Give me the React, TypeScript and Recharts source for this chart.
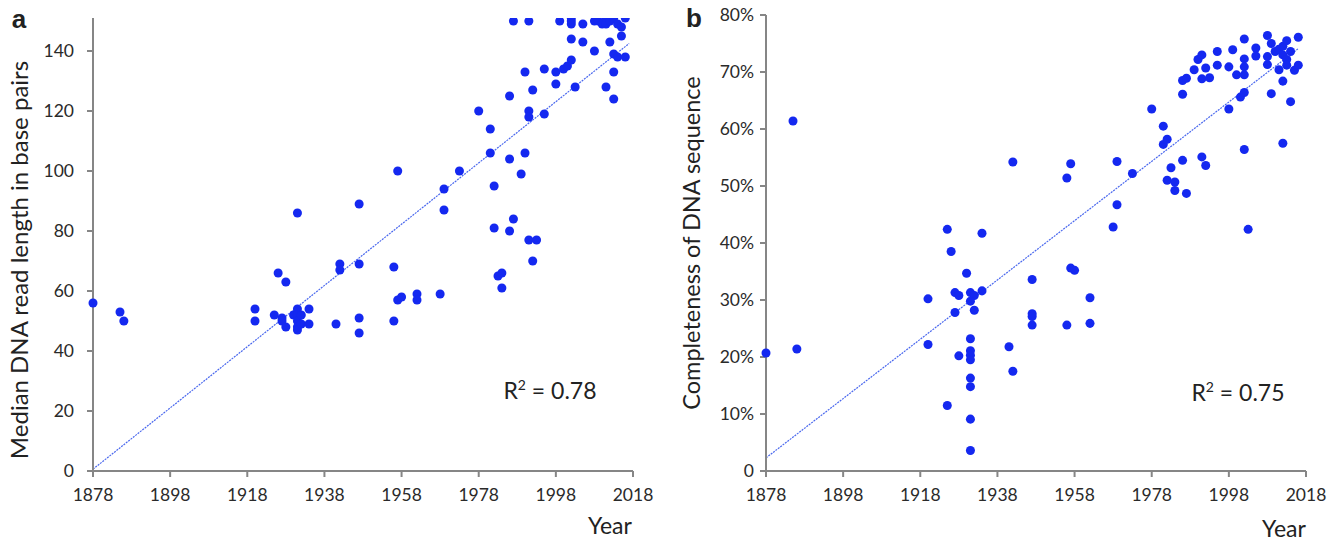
import React from "react"
import { ScatterChart, Scatter, XAxis, YAxis, ZAxis, ReferenceLine } from "recharts"

// Panel a: median read length (bp) per year
const aYears = [
  1878, 1885, 1886, 1920, 1920, 1925, 1926, 1927, 1927, 1928, 1928, 1930, 1931, 1931, 1931, 1931, 1931, 1931,
  1932, 1932, 1934, 1934, 1941, 1942, 1942, 1947, 1947, 1947, 1947, 1956, 1956, 1957, 1957, 1958, 1962, 1962,
  1968, 1969, 1969, 1973, 1978, 1981, 1981, 1982, 1982, 1983, 1984, 1984, 1986, 1986, 1986, 1987, 1987, 1989,
  1990, 1990, 1991, 1991, 1991, 1991, 1992, 1992, 1993, 1995, 1995, 1998, 1998, 1999, 2000, 2001, 2002, 2002,
  2002, 2002, 2002, 2003, 2005, 2005, 2008, 2008, 2009, 2010, 2011, 2011, 2012, 2013, 2014, 2012, 2011, 2013,
  2013, 2013, 2014, 2015, 2015, 2016, 2016,
]
const aLengths = [
  56, 53, 50, 54, 50, 52, 66, 51, 50, 63, 48, 52, 86, 54, 52, 50, 48, 47,
  52, 49, 54, 49, 49, 69, 67, 89, 69, 51, 46, 68, 50, 100, 57, 58, 59, 57,
  59, 94, 87, 100, 120, 114, 106, 95, 81, 65, 66, 61, 125, 104, 80, 150, 84, 99,
  133, 106, 150, 120, 118, 77, 127, 70, 77, 134, 119, 129, 133, 150, 134, 135, 137, 144,
  151, 150, 149, 128, 149, 143, 140, 150, 150, 149, 151, 149, 150, 151, 149, 143, 128, 139,
  133, 124, 138, 148, 145, 151, 138,
]

// Panel b: completeness (%) per year
const bYears = [
  1878, 1885, 1886, 1920, 1920, 1925, 1925, 1926, 1927, 1928, 1927, 1928, 1930, 1931, 1932, 1931, 1932, 1931,
  1931, 1931, 1931, 1931, 1931, 1931, 1931, 1934, 1934, 1941, 1942, 1942, 1947, 1947, 1947, 1947, 1956, 1956,
  1957, 1957, 1958, 1962, 1962, 1968, 1969, 1969, 1973, 1978, 1981, 1981, 1982, 1982, 1983, 1984, 1984, 1986,
  1986, 1987, 1986, 1987, 1989, 1990, 1991, 1991, 1991, 1992, 1992, 1993, 1995, 1995, 1998, 1998, 1999, 2000,
  2001, 2002, 2002, 2002, 2002, 2002, 2002, 2003, 2005, 2005, 2008, 2009, 2008, 2008, 2009, 2010, 2011, 2012,
  2011, 2012, 2012, 2012, 2013, 2013, 2013, 2014, 2014, 2015, 2016, 2016,
]
const bCompleteness = [
  20.7, 61.4, 21.4, 30.2, 22.2, 42.4, 11.5, 38.5, 31.3, 30.8, 27.8, 20.2, 34.7, 31.3, 30.8, 29.8, 28.2, 23.2,
  21.1, 20.3, 19.5, 16.3, 14.8, 9.1, 3.6, 41.7, 31.6, 21.8, 54.2, 17.5, 33.6, 27.6, 27.1, 25.6, 51.4, 25.6,
  53.9, 35.6, 35.2, 30.4, 25.9, 42.8, 54.3, 46.7, 52.2, 63.5, 60.5, 57.3, 58.2, 51.0, 53.2, 50.7, 49.2, 66.1,
  68.5, 68.9, 54.5, 48.7, 70.4, 72.2, 73.0, 68.8, 55.1, 70.7, 53.6, 69.0, 73.6, 71.2, 70.9, 63.5, 73.9, 69.5,
  65.6, 75.8, 72.3, 70.9, 69.5, 66.4, 56.4, 42.4, 74.2, 72.8, 76.4, 75.0, 72.7, 71.3, 66.2, 73.6, 74.0, 74.5,
  70.4, 68.4, 57.5, 73.0, 72.2, 75.5, 71.2, 73.6, 64.8, 70.3, 76.1, 71.2,
]

const yearTicks = [1878, 1898, 1918, 1938, 1958, 1978, 1998, 2018]
const lengthTicks = [0, 20, 40, 60, 80, 100, 120, 140]
const completenessTicks = [0, 10, 20, 30, 40, 50, 60, 70, 80]

// linear trend end points
const aTrend = [{ x: 1878, y: 0.6 }, { x: 2017, y: 142.5 }]
const bTrend = [{ x: 1878, y: 2.3 }, { x: 2016, y: 74.1 }]

const aData = aYears.map((year, i) => ({ year, value: aLengths[i] }))
const bData = bYears.map((year, i) => ({ year, value: bCompleteness[i] }))

const AXIS = "#868686"
const DOT = "#1428f0"
const TREND = "#4a68ee"
const FONT = "Lato, 'Open Sans', sans-serif"
const tickStyle = { fontSize: 17.5, fill: "#2a2a2a", fontFamily: FONT }

function Panel({ data, trend, yDomain, yTicks, yFormat, yWidth, yTickMargin, margin, width }) {
  return (
    <ScatterChart width={width} height={541} margin={margin}>
      <XAxis
        type="number"
        dataKey="year"
        domain={[1878, 2018]}
        ticks={yearTicks}
        height={70}
        axisLine={{ stroke: AXIS, strokeWidth: 2 }}
        tickLine={{ stroke: AXIS, strokeWidth: 2 }}
        tickSize={6}
        tickMargin={12}
        tick={tickStyle}
        interval={0}
      />
      <YAxis
        type="number"
        dataKey="value"
        domain={yDomain}
        ticks={yTicks}
        width={yWidth}
        axisLine={{ stroke: AXIS, strokeWidth: 2 }}
        tickLine={{ stroke: AXIS, strokeWidth: 2 }}
        tickSize={6}
        tickMargin={yTickMargin}
        tick={tickStyle}
        tickFormatter={yFormat}
        interval={0}
        allowDataOverflow
      />
      <ZAxis range={[46, 46]} />
      <ReferenceLine
        segment={trend}
        stroke={TREND}
        strokeWidth={1.2}
        strokeDasharray="2 1"
      />
      <Scatter data={data} fill={DOT} isAnimationActive={false} />
    </ScatterChart>
  )
}

const abs = (left, top, style = {}) => ({
  position: "absolute" as const,
  left,
  top,
  transform: "translate(-50%, -50%)",
  whiteSpace: "nowrap" as const,
  lineHeight: 1,
  fontFamily: FONT,
  color: "#222",
  ...style,
})

export default function App() {
  return (
    <div style={{ position: "absolute", left: 0, top: 0, width: 1339, height: 541, background: "#fff" }}>
      <div style={{ position: "absolute", left: 0, top: 0 }}>
        <Panel
          data={aData}
          trend={aTrend}
          yDomain={[0, 151]}
          yTicks={lengthTicks}
          yFormat={(v) => String(v)}
          yWidth={93}
          yTickMargin={13}
          margin={{ top: 18, right: 37, bottom: 0, left: 0 }}
          width={670}
        />
      </div>
      <div style={{ position: "absolute", left: 670, top: 0 }}>
        <Panel
          data={bData}
          trend={bTrend}
          yDomain={[0, 80]}
          yTicks={completenessTicks}
          yFormat={(v) => (v === 0 ? "0" : `${v}%`)}
          yWidth={96}
          yTickMargin={6}
          margin={{ top: 15, right: 33, bottom: 0, left: 0 }}
          width={669}
        />
      </div>

      <div style={abs(19, 19, { fontFamily: "'Liberation Sans', Arial, sans-serif", fontWeight: 700, fontSize: 26 })}>a</div>
      <div style={abs(694, 18, { fontFamily: "'Liberation Sans', Arial, sans-serif", fontWeight: 700, fontSize: 26 })}>b</div>

      <div style={abs(19, 260, { fontSize: 24, transform: "translate(-50%, -50%) rotate(-90deg)" })}>
        Median DNA read length in base pairs
      </div>
      <div style={abs(692, 243, { fontSize: 23.5, transform: "translate(-50%, -50%) rotate(-90deg)" })}>
        Completeness of DNA sequence
      </div>

      <div style={abs(610, 525, { fontSize: 23 })}>Year</div>
      <div style={abs(1284, 528, { fontSize: 23 })}>Year</div>

      <div style={abs(550, 390, { fontSize: 23 })}>
        R<sup style={{ fontSize: 14, verticalAlign: "9px" }}>2</sup> = 0.78
      </div>
      <div style={abs(1238, 392, { fontSize: 23 })}>
        R<sup style={{ fontSize: 14, verticalAlign: "9px" }}>2</sup> = 0.75
      </div>
    </div>
  )
}
